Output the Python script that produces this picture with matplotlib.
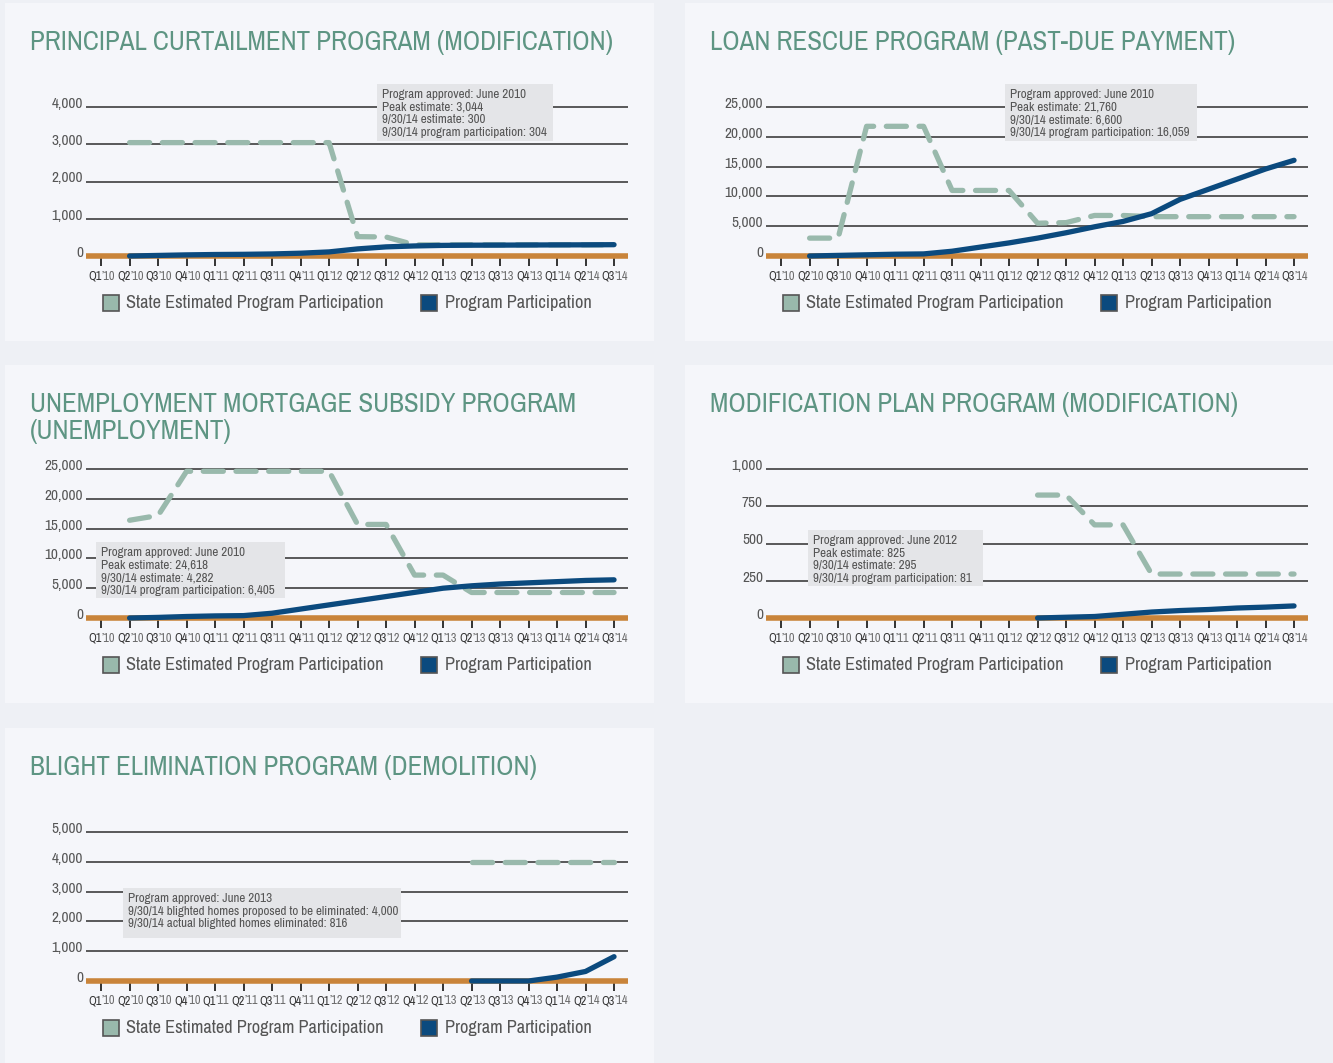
import numpy as np
import matplotlib.pyplot as plt
from matplotlib import font_manager, transforms
from matplotlib.patches import Rectangle

W, H = 1333, 1063

# quarters on the x axis
quarters = ['Q1', 'Q2', 'Q3', 'Q4', 'Q1', 'Q2', 'Q3', 'Q4', 'Q1', 'Q2',
            'Q3', 'Q4', 'Q1', 'Q2', 'Q3', 'Q4', 'Q1', 'Q2', 'Q3']
years = ['10', '10', '10', '10', '11', '11', '11', '11', '12', '12',
         '12', '12', '13', '13', '13', '13', '14', '14', '14']

nan = np.nan

principal_est = [nan, 3044, 3044, 3044, 3044, 3044, 3044, 3044, 3044, 520,
                 510, 300, 300, 300, 300, 300, 300, 300, 300]
principal_part = [nan, 0, 15, 30, 40, 45, 55, 75, 110, 190,
                  245, 270, 285, 290, 292, 295, 298, 300, 304]

rescue_est = [nan, 3000, 3000, 21760, 21760, 21760, 11000, 11000, 11000, 5500,
              5600, 6800, 6800, 6600, 6600, 6600, 6600, 6600, 6600]
rescue_part = [nan, 0, 100, 200, 300, 350, 800, 1500, 2200, 3000,
               3900, 4900, 5800, 7100, 9500, 11200, 12900, 14600, 16059]

unemp_est = [nan, 16400, 17200, 24618, 24618, 24618, 24618, 24618, 24618, 15700,
             15700, 7200, 7200, 4282, 4282, 4282, 4282, 4282, 4282]
unemp_part = [nan, 0, 100, 250, 350, 400, 800, 1500, 2200, 2900,
              3600, 4300, 5000, 5400, 5700, 5900, 6100, 6300, 6405]

modplan_est = [nan] * 9 + [825, 825, 625, 625, 295, 295, 295, 295, 295, 295]
modplan_part = [nan] * 9 + [0, 5, 10, 25, 40, 50, 57, 67, 73, 81]

blight_est = [nan] * 13 + [4000, 4000, 4000, 4000, 4000, 4000]
blight_part = [nan] * 13 + [0, 0, 0, 130, 320, 816]

PAGE = '#eef0f5'
PANEL = '#f5f6fa'
TITLE = '#5e9583'
EST = '#99b9ac'
PART = '#0b4a7e'
BASE = '#c9843a'
GRID = '#2e2e2e'


def pick_font():
    names = sorted({f.name for f in font_manager.fontManager.ttflist})
    for key in ('Narrow', 'Condensed', 'Cond'):
        for n in names:
            if key in n:
                return n
    for n in ('Liberation Sans', 'Roboto', 'DejaVu Sans'):
        if n in names:
            return n
    return 'DejaVu Sans'


FONT = pick_font()
plt.rcParams['font.family'] = [FONT, 'DejaVu Sans']

fig = plt.figure(figsize=(W / 100, H / 100), dpi=100)
fig.patch.set_facecolor(PAGE)
renderer = fig.canvas.get_renderer()


def fit_size(text, size, width_px, **kw):
    # font size that makes `text` span width_px
    t = fig.text(0, 0, text, fontsize=size, **kw)
    w = t.get_window_extent(renderer).width
    t.remove()
    return size * width_px / w


TITLE_FS = fit_size('PRINCIPAL CURTAILMENT PROGRAM (MODIFICATION)', 20, 584)
LEGEND_FS = fit_size('State Estimated Program Participation', 12, 257)
NOTE_FS = fit_size('9/30/14 program participation: 304', 8, 165)
QTR_FS = fit_size('Q1', 7, 13.5, fontweight='bold')
YLAB_FS = fit_size('4,000', 10, 31)


def fx(x):
    return x / W


def fy(y):
    return 1 - y / H


def draw_panel(px, py, title, yticks, est, part, note, note_box):
    # panel background
    fig.add_artist(Rectangle((fx(px), fy(py + 338)), 649 / W, 338 / H,
                             transform=fig.transFigure, facecolor=PANEL,
                             edgecolor='none', zorder=0))
    for k, line in enumerate(title.split('\n')):
        fig.text(fx(px + 25), fy(py + 47 + 27 * k), line, color=TITLE,
                 fontsize=TITLE_FS, va='baseline', ha='left')

    top, base = py + 104, py + 253
    gx0, gx1 = px + 81, px + 623
    ax = fig.add_axes([fx(gx0), fy(base), (gx1 - gx0) / W, (base - top) / H])
    ax.set_facecolor('none')
    for s in ax.spines.values():
        s.set_visible(False)
    ax.set_xlim(-0.53, 18.49)
    ax.set_ylim(0, yticks[-1])

    for v in yticks[1:]:
        ax.axhline(v, color=GRID, lw=1.1, zorder=1, clip_on=False,
                   solid_capstyle='butt')
    ax.axhline(0, color=BASE, lw=4.0, zorder=2, clip_on=False,
               solid_capstyle='butt')

    x = np.arange(len(quarters))
    ax.plot(x, est, color=EST, lw=3.8, ls=(0, (3.8, 2.4)),
            dash_capstyle='round', solid_capstyle='round', zorder=3, clip_on=False)
    ax.plot(x, part, color=PART, lw=3.8, solid_capstyle='round', zorder=4,
            clip_on=False)

    ax.set_yticks([])
    ax.set_xticks(x)
    ax.set_xticklabels([])
    ax.tick_params(axis='x', direction='out', length=7, width=1.4, color='#333')

    # y labels sit just above their gridline
    ylab = transforms.offset_copy(ax.get_yaxis_transform(), fig=fig, x=-3, y=3, units='dots')
    for v in yticks:
        ax.text(0, v, f'{v:,}', transform=ylab, ha='right', va='center',
                fontsize=YLAB_FS, color='#555555')

    # quarter labels: bold quarter, light year
    xlab = transforms.offset_copy(ax.get_xaxis_transform(), fig=fig, x=0, y=-20, units='dots')
    for i in x:
        ax.text(i + 0.03, 0, quarters[i], transform=xlab, ha='right', va='center',
                fontsize=QTR_FS, fontweight='bold', color='#333333')
        ax.text(i + 0.03, 0, '\u2019' + years[i], transform=xlab, ha='left', va='center',
                fontsize=QTR_FS, color='#6a6a6a')

    # note box
    bx0, by0, bx1, by1 = note_box
    fig.add_artist(Rectangle((fx(bx0), fy(by1)), (bx1 - bx0) / W, (by1 - by0) / H,
                             transform=fig.transFigure, facecolor='#e4e5e8',
                             edgecolor='none', zorder=5))
    fig.text(fx(bx0 + 5), fy(by0 + 5), note, ha='left', va='top', fontsize=NOTE_FS,
             color='#555555', linespacing=1.17, zorder=6)

    # legend
    ly = py + 300
    for sx, tx, col, lab in [(98, 121, EST, 'State Estimated Program Participation'),
                             (416, 440, PART, 'Program Participation')]:
        fig.add_artist(Rectangle((fx(px + sx), fy(ly + 8)), 16 / W, 16 / H,
                                 transform=fig.transFigure, facecolor=col,
                                 edgecolor='#555555', lw=1.2, zorder=3))
        fig.text(fx(px + tx), fy(ly), lab, ha='left', va='center',
                 fontsize=LEGEND_FS, color='#555555')


draw_panel(5, 3, 'PRINCIPAL CURTAILMENT PROGRAM (MODIFICATION)',
           [0, 1000, 2000, 3000, 4000], principal_est, principal_part,
           'Program approved: June 2010\nPeak estimate: 3,044\n'
           '9/30/14 estimate: 300\n9/30/14 program participation: 304',
           (377, 84, 553, 141))
draw_panel(685, 3, 'LOAN RESCUE PROGRAM (PAST-DUE PAYMENT)',
           [0, 5000, 10000, 15000, 20000, 25000], rescue_est, rescue_part,
           'Program approved: June 2010\nPeak estimate: 21,760\n'
           '9/30/14 estimate: 6,600\n9/30/14 program participation: 16,059',
           (1005, 84, 1197, 141))
draw_panel(5, 365, 'UNEMPLOYMENT MORTGAGE SUBSIDY PROGRAM\n(UNEMPLOYMENT)',
           [0, 5000, 10000, 15000, 20000, 25000], unemp_est, unemp_part,
           'Program approved: June 2010\nPeak estimate: 24,618\n'
           '9/30/14 estimate: 4,282\n9/30/14 program participation: 6,405',
           (96, 542, 285, 598))
draw_panel(685, 365, 'MODIFICATION PLAN PROGRAM (MODIFICATION)',
           [0, 250, 500, 750, 1000], modplan_est, modplan_part,
           'Program approved: June 2012\nPeak estimate: 825\n'
           '9/30/14 estimate: 295\n9/30/14 program participation: 81',
           (808, 530, 983, 586))
draw_panel(5, 728, 'BLIGHT ELIMINATION PROGRAM (DEMOLITION)',
           [0, 1000, 2000, 3000, 4000, 5000], blight_est, blight_part,
           'Program approved: June 2013\n'
           '9/30/14 blighted homes proposed to be eliminated: 4,000\n'
           '9/30/14 actual blighted homes eliminated: 816',
           (123, 888, 401, 938))

fig.savefig('out.png', dpi=100, facecolor=PAGE)
